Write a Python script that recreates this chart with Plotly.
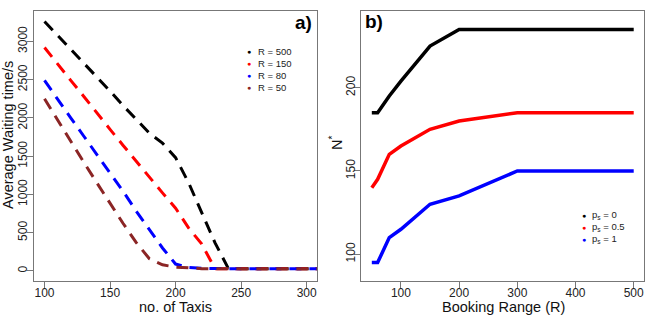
import plotly.graph_objects as go
from plotly.subplots import make_subplots

# panel a) - waiting time vs number of taxis
taxis = [100, 110, 120, 130, 140, 150, 160, 170, 180, 190, 200, 210, 220, 230, 240, 250, 260, 270, 280, 290, 300, 310]
wait_r500 = [3260, 3080, 2900, 2720, 2530, 2350, 2160, 1980, 1800, 1670, 1480, 1150, 760, 370, 40, 30, 30, 30, 30, 30, 30, 30]
wait_r150 = [2920, 2700, 2490, 2280, 2060, 1850, 1640, 1430, 1230, 1020, 820, 560, 350, 30, 30, 30, 30, 30, 30, 30, 30, 30]
wait_r80 = [2490, 2240, 2000, 1760, 1520, 1280, 1040, 780, 540, 300, 90, 45, 35, 30, 30, 30, 30, 30, 30, 30, 30, 30]
wait_r50 = [2250, 1970, 1690, 1420, 1150, 880, 620, 370, 160, 80, 50, 40, 30, 30, 30, 30, 30, 30, 30, 30, 30, 30]
labels_a = ["R = 500", "R = 150", "R = 80", "R = 50"]

# panel b) - optimal fleet size vs booking range
booking = [50, 60, 80, 100, 150, 200, 300, 400, 500]
n_ps0 = [185, 185, 195, 204, 225, 235, 235, 235, 235]
n_ps05 = [140, 145, 160, 165, 175, 180, 185, 185, 185]
n_ps1 = [95, 95, 110, 115, 130, 135, 150, 150, 150]
labels_b = ["p<sub>s</sub> = 0", "p<sub>s</sub> = 0.5", "p<sub>s</sub> = 1"]

colors_a = ["black", "#ff0000", "#0000ff", "#8b2525"]
colors_b = ["black", "#ff0000", "#0000ff"]

W, H = 654, 327
FONT = "Liberation Sans, Arial, sans-serif"

fig = make_subplots(rows=1, cols=2)

for ys, col in zip([wait_r500, wait_r150, wait_r80, wait_r50], colors_a):
    fig.add_trace(go.Scatter(x=taxis, y=ys, mode="lines",
                             line=dict(color=col, width=3, dash="12px,8px"),
                             showlegend=False), row=1, col=1)

for ys, col in zip([n_ps0, n_ps05, n_ps1], colors_b):
    fig.add_trace(go.Scatter(x=booking, y=ys, mode="lines",
                             line=dict(color=col, width=3.5),
                             showlegend=False), row=1, col=2)

axis_style = dict(showline=True, mirror=True, linecolor="#777", linewidth=1,
                  ticks="outside", ticklen=6, tickcolor="#777",
                  showgrid=False, zeroline=False,
                  tickfont=dict(size=12, color="#222", family=FONT))

fig.update_xaxes(axis_style, ticklabelstandoff=-5)
fig.update_yaxes(axis_style, ticklabelstandoff=-5)

fig.update_xaxes(domain=[0.052, 0.485], range=[92, 308], tickvals=[100, 150, 200, 250, 300], row=1, col=1)
fig.update_yaxes(domain=[0.141, 0.966], range=[-130, 3395], tickvals=[0, 500, 1000, 1500, 2000, 2500, 3000],
                 tickangle=-90, row=1, col=1)
fig.update_xaxes(domain=[0.5525, 0.985], range=[32, 518], tickvals=[100, 200, 300, 400, 500], row=1, col=2)
fig.update_yaxes(domain=[0.141, 0.966], range=[84, 246], tickvals=[100, 150, 200], tickangle=-90, row=1, col=2)


def px_note(x, y, text, size, color="#111", xanchor="center", **kw):
    fig.add_annotation(x=x / W, y=1 - y / H, xref="paper", yref="paper", text=text,
                       showarrow=False, xanchor=xanchor, yanchor="middle",
                       font=dict(size=size, color=color, family=FONT), **kw)


# axis titles
px_note(176, 306.5, "no. of Taxis", 14.5)
px_note(503, 306.5, "Booking Range (R)", 14.5)
px_note(8, 135, "Average Waiting time/s", 14.5, textangle=-90)
px_note(336, 143, "N<sup>*</sup>", 14.5, textangle=-90)

# keys
for lab, col, yy in zip(labels_a, colors_a, [51.7, 63.3, 75.3, 87.3]):
    px_note(249, yy, "●", 7, color=col)
    px_note(256, yy, lab, 9.5, color="#222", xanchor="left")
for lab, col, yy in zip(labels_b, colors_b, [215, 227, 239.3]):
    px_note(584, yy, "●", 7, color=col)
    px_note(590, yy, lab, 9.5, color="#222", xanchor="left")

# panel letters
px_note(314, 23, "<b>a)</b>", 19, color="black", xanchor="right")
px_note(363, 22, "<b>b)</b>", 19, color="black", xanchor="left")

fig.update_layout(width=W, height=H, margin=dict(l=0, r=0, t=0, b=0),
                  plot_bgcolor="white", paper_bgcolor="white",
                  font=dict(family=FONT))

fig.write_html("out.html", config={"displayModeBar": False},
               post_script="document.body.style.margin='0';")
